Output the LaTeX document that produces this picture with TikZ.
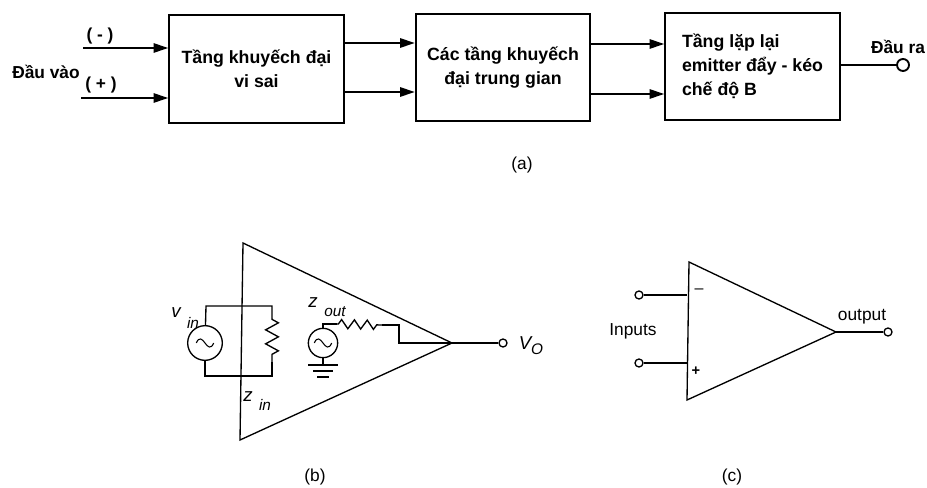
\documentclass[tikz,border=0pt]{standalone}
\usepackage{fontspec}
\setmainfont{Liberation Sans}
\usepackage{tikz}
\usetikzlibrary{arrows.meta,decorations.pathmorphing}
\tikzset{
	blockbox/.style={draw,line width=1.4pt,minimum width=131pt,minimum height=80pt,align=center,
		font=\bfseries\fontsize{13.3}{18}\selectfont},
	sig/.style={line width=1.4pt,-{Triangle[length=11pt,width=7pt]}},
	wire/.style={line width=1pt},
	term/.style={circle,draw,line width=1pt,fill=white,inner sep=0pt,minimum size=6pt},
	acsource/.style={circle,draw,line width=1pt,inner sep=0pt,path picture={
		\draw[line width=0.8pt] ([xshift=-6.5pt]path picture bounding box.center)
			.. controls +(2pt,5pt) and +(-2pt,3pt) .. (path picture bounding box.center)
			.. controls +(2pt,-3pt) and +(-2pt,-5pt) .. ([xshift=6.5pt]path picture bounding box.center);}},
	zigin/.style={decorate,decoration={zigzag,segment length=10.5pt,amplitude=4.8pt,pre length=1pt,post length=1pt}},
	zigout/.style={decorate,decoration={zigzag,segment length=9.6pt,amplitude=3.4pt,pre length=1pt,post length=1pt}},
	lbl/.style={inner sep=0pt,font=\bfseries\fontsize{13}{14}\selectfont},
	thinlbl/.style={inner sep=0pt,font=\fontsize{13}{14}\selectfont},
	ital/.style={inner sep=0pt,font=\itshape\fontsize{11.5}{12}\selectfont},
	bigital/.style={inner sep=0pt,font=\itshape\fontsize{14}{14}\selectfont},
}
\begin{document}
\begin{tikzpicture}[x=0.75pt,y=-0.75pt]
	\useasboundingbox (0,0) rectangle (927,488);
	% (a) block chain
	\node[blockbox,minimum height=81pt] (diff) at (256.5,69) {Tầng khuyếch đại\\vi sai};
	\node[blockbox] (mid) at (503,67.5) {Các tầng khuyếch\\đại trung gian};
	\node[blockbox,align=left] (follow) at (752.5,66.5) {Tầng lặp lại\\emitter đẩy - kéo\\chế độ B};
	\coordinate (inm) at (83,48);
	\coordinate (inp) at (81,98);
	\coordinate (d1) at (344,43);
	\coordinate (d2) at (344,92);
	\coordinate (m1) at (590,44);
	\coordinate (m2) at (590,94);
	\coordinate (f1) at (840,65);
	\node[term,minimum size=9pt,line width=1.4pt] (outa) at (903,65) {};
	\draw[sig] (inm) -- (inm -| diff.west);
	\draw[sig] (inp) -- (inp -| diff.west);
	\draw[sig] (d1) -- (d1 -| mid.west);
	\draw[sig] (d2) -- (d2 -| mid.west);
	\draw[sig] (m1) -- (m1 -| follow.west);
	\draw[sig] (m2) -- (m2 -| follow.west);
	\draw[line width=1.4pt] (f1) -- (outa);
	\node[lbl] (ltm) at (100,36) {( - )};
	\node[lbl] (ltp) at (101,85) {( + )};
	\node[lbl] (lin) at (46,72) {Đầu vào};
	\node[lbl] (lout) at (898,47) {Đầu ra};
	\node[thinlbl] (capa) at (522,165) {(a)};

	% (b) equivalent circuit
	\coordinate (bt) at (243,243);
	\coordinate (bb) at (240,440);
	\coordinate (btip) at (452,343);
	\draw[wire,line join=miter] (bt) -- (bb) -- (btip) -- cycle;
	\node[term] (outb) at (503,343) {};
	\draw[wire] (btip) -- (outb);
	\node[acsource,minimum size=26pt] (vs) at (205,343) {};
	\coordinate (tl) at (206,306);
	\coordinate (tr) at (272,306);
	\coordinate (br) at (272,376);
	\coordinate (bl) at (205,376);
	\coordinate (r1) at (272,318);
	\coordinate (r2) at (272,362);
	\draw[wire] (vs) -- (tl) -- (tr) -- (r1);
	\draw[wire,zigin] (r1) -- (r2);
	\draw[wire] (r2) -- (br) -- (bl) -- (vs);
	\node[acsource,minimum size=22pt] (zs) at (323,343) {};
	\coordinate (c1) at (323,324);
	\coordinate (r3) at (337,324);
	\coordinate (r4) at (382,325);
	\coordinate (c2) at (399,325);
	\coordinate (c3) at (399,343);
	\coordinate (gnd) at (323,365);
	\draw[wire] (zs) -- (c1) -- (r3);
	\draw[wire,zigout] (r3) -- (r4);
	\draw[wire] (r4) -- (c2) -- (c3) -- (btip);
	\draw[wire] (zs) -- (gnd);
	\draw[wire] (308,365) -- (338,365);
	\draw[wire] (313,371) -- (333,371);
	\draw[wire] (317,377) -- (329,377);
	\node[bigital] (lv) at (176,313) {v};
	\node[ital] (lvi) at (193,323) {in};
	\node[bigital] (lzo) at (313,303) {z};
	\node[ital] (lzoo) at (335,312) {out};
	\node[bigital] (lzi) at (248,397) {z};
	\node[ital] (lzii) at (265,405) {in};
	\node[bigital] (lvo) at (525,343) {V};
	\node[ital] (lvoo) at (537,349) {O};
	\node[thinlbl] (capb) at (315,477) {(b)};

	% (c) op-amp symbol
	\coordinate (ct) at (689,262);
	\coordinate (cb) at (687,400);
	\coordinate (ctip) at (836,332);
	\draw[wire,line join=miter] (ct) -- (cb) -- (ctip) -- cycle;
	\node[term] (inc1) at (639,295) {};
	\node[term] (inc2) at (639,363) {};
	\node[term] (outc) at (888,332) {};
	\draw[wire] (inc1) -- (inc1 -| cb);
	\draw[wire] (inc2) -- (inc2 -| cb);
	\draw[line width=1.3pt] (ctip) -- (outc);
	\node[thinlbl,font=\fontsize{12}{12}\selectfont] (minus) at (699,291) {–};
	\node[thinlbl,font=\bfseries\fontsize{11}{12}\selectfont] (plus) at (696,371) {+};
	\node[thinlbl] (linp) at (633,331) {Inputs};
	\node[thinlbl] (lo) at (862,317) {output};
	\node[thinlbl] (capc) at (732,477) {(c)};
\end{tikzpicture}
\end{document}
